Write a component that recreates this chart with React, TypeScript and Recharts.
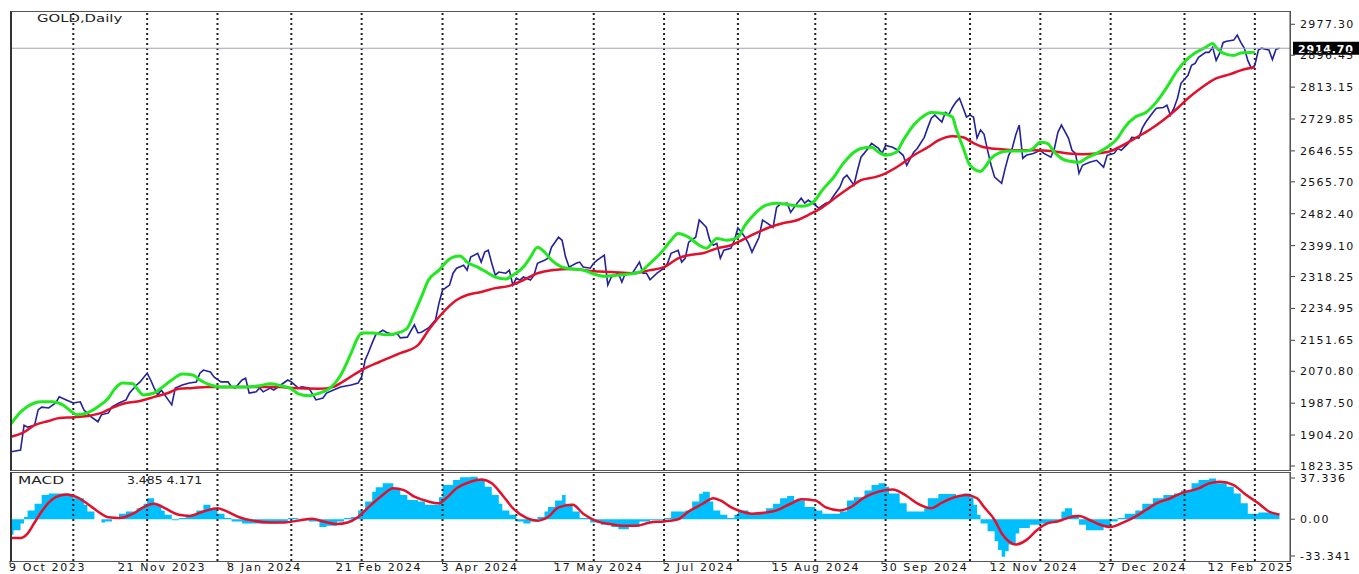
import React from 'react';
import { ComposedChart, Line, Area, XAxis, YAxis, ReferenceLine } from 'recharts';

const FONT = '"DejaVu Sans", Verdana, sans-serif';

// [trading day index (0 = 9 Oct 2023), close]
const priceSeries = [
  [0, 1860], [3, 1865], [4, 1930], [5, 1925], [7, 1930], [8, 1970], [9, 1977], [11, 1975], [13, 1988], [14, 2004],
  [16, 1996], [18, 1988], [20, 1991], [21, 1970], [23, 1952], [25, 1939], [26, 1957], [28, 1962], [29, 1978], [31, 1988],
  [33, 1996], [34, 2014], [36, 2035], [37, 2043], [39, 2066], [40, 2048], [41, 2027], [42, 2009], [43, 2022], [45, 1996],
  [46, 1983], [47, 2027], [49, 2035], [51, 2040], [53, 2043], [54, 2066], [55, 2074], [57, 2069], [58, 2056], [60, 2043],
  [62, 2043], [63, 2030], [64, 2027], [66, 2048], [67, 2053], [68, 2014], [70, 2017], [71, 2027], [72, 2017], [74, 2027],
  [75, 2022], [77, 2035], [79, 2048], [80, 2043], [82, 2027], [83, 2030], [85, 2027], [87, 1996], [89, 2001], [90, 2014],
  [92, 2022], [94, 2030], [97, 2035], [99, 2040], [100, 2056], [101, 2100], [102, 2121], [103, 2145], [104, 2166], [106, 2178],
  [107, 2173], [109, 2166], [110, 2171], [111, 2158], [113, 2160], [115, 2192], [116, 2171], [117, 2173], [119, 2184], [121, 2205],
  [122, 2249], [123, 2283], [125, 2296], [126, 2327], [127, 2340], [129, 2348], [130, 2335], [131, 2369], [133, 2379], [134, 2356],
  [135, 2382], [136, 2387], [137, 2353], [138, 2322], [139, 2330], [141, 2327], [142, 2335], [143, 2296], [144, 2314], [145, 2309],
  [146, 2317], [148, 2309], [149, 2322], [150, 2353], [152, 2361], [153, 2366], [154, 2395], [156, 2421], [157, 2413], [158, 2369],
  [159, 2343], [161, 2353], [162, 2356], [163, 2343], [165, 2340], [166, 2353], [167, 2361], [169, 2374], [170, 2296], [171, 2317],
  [173, 2327], [174, 2304], [175, 2327], [177, 2327], [179, 2356], [180, 2327], [181, 2327], [182, 2310], [184, 2327], [186, 2340],
  [187, 2353], [188, 2379], [190, 2387], [191, 2356], [192, 2366], [193, 2408], [195, 2421], [196, 2466], [198, 2447], [199, 2413],
  [200, 2400], [201, 2405], [202, 2366], [203, 2387], [205, 2392], [206, 2413], [207, 2445], [208, 2434], [209, 2421], [210, 2405],
  [211, 2382], [213, 2421], [214, 2466], [215, 2460], [217, 2447], [218, 2499], [219, 2507], [221, 2510], [222, 2486], [224, 2512],
  [225, 2523], [226, 2510], [227, 2518], [229, 2505], [230, 2497], [232, 2510], [233, 2512], [234, 2526], [236, 2552], [237, 2575],
  [238, 2583], [240, 2557], [241, 2596], [242, 2630], [244, 2653], [245, 2666], [247, 2653], [248, 2640], [249, 2661], [251, 2656],
  [252, 2651], [254, 2635], [255, 2609], [257, 2643], [258, 2653], [260, 2682], [261, 2708], [262, 2732], [263, 2740], [265, 2722],
  [266, 2747], [267, 2742], [268, 2760], [269, 2774], [270, 2784], [271, 2760], [272, 2735], [273, 2740], [274, 2735], [275, 2680],
  [276, 2701], [277, 2690], [278, 2648], [279, 2609], [280, 2578], [282, 2562], [283, 2601], [284, 2635], [285, 2653], [286, 2688],
  [287, 2714], [288, 2627], [289, 2635], [291, 2640], [293, 2648], [294, 2640], [296, 2630], [297, 2653], [298, 2695], [299, 2714],
  [301, 2680], [302, 2648], [303, 2640], [304, 2588], [305, 2609], [307, 2617], [309, 2622], [311, 2604], [312, 2635], [314, 2640],
  [315, 2653], [316, 2648], [318, 2666], [319, 2682], [321, 2680], [322, 2706], [323, 2722], [325, 2747], [326, 2758], [328, 2760],
  [329, 2766], [330, 2740], [331, 2758], [332, 2784], [333, 2823], [335, 2844], [336, 2870], [337, 2875], [338, 2891], [340, 2904],
  [341, 2904], [342, 2917], [343, 2883], [344, 2902], [345, 2930], [346, 2933], [348, 2936], [349, 2949], [350, 2930], [351, 2915],
  [352, 2883], [353, 2862], [354, 2870], [355, 2910], [356, 2915], [357, 2912], [358, 2910], [359, 2885], [360, 2912], [361, 2914.7],
];

// fast moving average (green)
const fastMaSeries = [
  [0, 1930], [3, 1964], [7, 1988], [9, 1991], [12, 1991], [15, 1983], [18, 1962], [19, 1957], [22, 1962], [25, 1978],
  [28, 2001], [30, 2027], [32, 2040], [35, 2038], [36, 2027], [38, 2009], [41, 2014], [43, 2027], [46, 2048], [49, 2064],
  [52, 2061], [54, 2048], [57, 2035], [60, 2030], [63, 2030], [67, 2030], [71, 2033], [74, 2038], [77, 2033], [80, 2025],
  [82, 2012], [85, 2007], [88, 2014], [91, 2027], [94, 2060], [97, 2118], [99, 2160], [100, 2171], [103, 2171], [107, 2166],
  [111, 2173], [113, 2184], [115, 2223], [117, 2265], [119, 2309], [122, 2335], [124, 2356], [126, 2369], [128, 2372], [130, 2356],
  [133, 2343], [136, 2327], [138, 2317], [141, 2312], [143, 2322], [146, 2343], [148, 2369], [150, 2395], [152, 2382], [154, 2361],
  [157, 2343], [160, 2338], [163, 2335], [166, 2325], [169, 2319], [173, 2322], [176, 2325], [179, 2330], [182, 2353], [185, 2379],
  [188, 2413], [190, 2431], [193, 2421], [196, 2400], [198, 2392], [201, 2418], [204, 2413], [207, 2421], [209, 2452], [212, 2484],
  [215, 2505], [218, 2510], [222, 2505], [225, 2502], [227, 2505], [229, 2518], [231, 2544], [234, 2575], [237, 2614], [240, 2643],
  [242, 2653], [245, 2656], [247, 2643], [249, 2635], [252, 2643], [254, 2674], [257, 2714], [259, 2732], [262, 2747], [265, 2745],
  [268, 2735], [269, 2706], [271, 2656], [273, 2609], [276, 2593], [277, 2601], [279, 2627], [281, 2640], [284, 2646], [286, 2646],
  [289, 2646], [291, 2653], [293, 2669], [295, 2666], [297, 2643], [299, 2627], [301, 2620], [304, 2617], [306, 2627], [309, 2640],
  [312, 2656], [315, 2680], [317, 2708], [320, 2735], [323, 2747], [326, 2774], [329, 2813], [332, 2857], [335, 2888], [337, 2902],
  [340, 2917], [342, 2927], [343, 2917], [345, 2902], [348, 2896], [350, 2902], [354, 2904],
];

// slow moving average (red)
const slowMaSeries = [
  [0, 1899], [4, 1912], [7, 1930], [11, 1941], [14, 1949], [18, 1951], [22, 1954], [26, 1962], [29, 1975], [33, 1988],
  [37, 1993], [41, 2004], [45, 2014], [48, 2025], [52, 2027], [56, 2030], [60, 2030], [69, 2030], [77, 2030], [80, 2027],
  [88, 2025], [92, 2030], [94, 2040], [100, 2074], [105, 2095], [111, 2118], [116, 2139], [119, 2178], [123, 2223], [127, 2257],
  [130, 2270], [134, 2278], [138, 2288], [142, 2294], [146, 2309], [150, 2327], [154, 2335], [160, 2338], [166, 2332], [171, 2330],
  [177, 2327], [182, 2335], [186, 2343], [190, 2366], [193, 2374], [197, 2379], [201, 2392], [205, 2400], [208, 2413], [212, 2431],
  [216, 2447], [220, 2458], [224, 2466], [227, 2479], [231, 2499], [235, 2526], [239, 2552], [242, 2570], [246, 2578], [249, 2588],
  [253, 2609], [257, 2635], [261, 2656], [264, 2674], [268, 2685], [271, 2682], [274, 2667], [277, 2656], [279, 2653], [282, 2651],
  [287, 2648], [292, 2648], [296, 2646], [301, 2640], [305, 2638], [309, 2640], [313, 2646], [316, 2659], [320, 2680], [324, 2701],
  [328, 2727], [332, 2758], [335, 2784], [339, 2813], [343, 2836], [347, 2847], [350, 2857], [354, 2865],
];

// MACD main (histogram)
const macdSeries = [
  [0, -14], [1, -10], [3, -4], [4, 2], [5, 8], [7, 14], [9, 22], [11, 23.4], [14, 23.4], [17, 22.8],
  [18, 19], [21, 13], [22, 7], [24, 0], [26, -3], [27, -2], [29, 0], [31, 5], [33, 7], [36, 10],
  [38, 14], [39, 19], [41, 13], [43, 8], [44, 4], [46, -1], [48, 1], [50, 4], [53, 8], [55, 13],
  [57, 10], [59, 5], [61, 1], [63, -2], [66, -4], [69, -4], [73, -4], [76, -3], [79, 1], [82, -1],
  [85, -2], [88, -7], [90, -6], [93, -2], [95, 1], [97, 2], [99, 8], [101, 16], [103, 25], [104, 29],
  [106, 32.5], [109, 28], [111, 22], [113, 17.4], [116, 16], [118, 13], [120, 13], [122, 20], [123, 31], [126, 35.5],
  [128, 38], [131, 38.5], [133, 35.5], [135, 29.5], [137, 22], [139, 14], [140, 8], [142, 4], [144, -2], [146, -4],
  [148, -2], [150, 2], [152, 7], [153, 11], [155, 17], [157, 22], [158, 14], [160, 7], [162, 1], [165, -3],
  [168, -5], [171, -7], [173, -9], [176, -7], [179, -2], [182, -1], [186, 1], [188, 7], [192, 8], [194, 16],
  [196, 23], [197, 25], [199, 16], [200, 8], [202, 4], [204, 1], [206, 4], [207, 8], [210, 5], [212, 5],
  [215, 10], [217, 14], [219, 19], [221, 21], [223, 17], [226, 11], [229, 8], [231, 5], [233, 5], [236, 7],
  [238, 17], [240, 20], [243, 26], [245, 31], [247, 32.5], [249, 29.5], [250, 23.4], [253, 14.4], [255, 7], [257, 7],
  [260, 10], [261, 19], [264, 22.8], [267, 22.8], [269, 21], [271, 23.4], [273, 20], [274, 13], [275, 4], [276, -4],
  [278, -11], [280, -20], [281, -28], [282, -34], [283, -29], [284, -23], [286, -13], [287, -8], [290, -5], [293, -4],
  [296, -3], [298, -2], [299, 7], [300, 10], [302, 4], [304, -5], [306, -10], [309, -10], [311, -7], [313, -2],
  [315, 1], [317, 5], [320, 8], [322, 14], [325, 19], [328, 22], [331, 23.4], [333, 26], [336, 32.5], [338, 35.5],
  [341, 37], [343, 32.5], [346, 29.5], [348, 23.4], [350, 14.4], [352, 5], [355, 6], [357, 6], [360, 4], [361, 3.485],
];

// MACD signal (red)
const signalSeries = [
  [0, -17], [3, -17], [5, -13], [7, -3], [9, 7], [11, 15], [13, 20], [16, 22.5], [19, 20], [22, 14],
  [25, 7], [28, 1.7], [31, 1], [35, 5], [38, 11], [41, 14], [44, 10], [48, 4], [51, 3], [55, 7],
  [59, 10], [61, 8], [65, 2], [69, -1.3], [74, -3], [78, -3], [82, -1.3], [86, 0.5], [89, -2], [93, -4.4],
  [96, -3], [99, 2], [102, 11], [106, 22], [109, 28], [112, 26.4], [115, 20.4], [119, 16], [122, 14.4], [124, 19],
  [127, 28], [131, 34], [134, 36], [137, 32.5], [140, 22], [143, 10], [147, 1], [150, -1.3], [153, 2], [156, 10.7],
  [160, 13], [163, 5], [167, -2], [171, -4.6], [174, -6], [178, -6], [182, -3], [186, -2], [190, 0], [193, 7],
  [197, 14], [200, 19], [202, 17], [205, 11], [208, 7], [211, 5], [215, 6], [218, 8], [222, 14], [225, 18],
  [229, 17], [232, 10.7], [236, 8], [239, 10.7], [243, 19.8], [247, 25], [251, 27], [255, 21], [258, 14.4], [262, 10],
  [265, 15], [269, 20.4], [272, 22], [275, 19], [277, 11], [280, -0.7], [282, -12.7], [284, -20], [286, -23], [289, -19],
  [292, -10], [295, -3.8], [298, -2], [302, 2.3], [304, 3], [307, -0.7], [310, -5], [313, -7], [316, -3.8], [320, 2.3],
  [323, 8.3], [326, 14.4], [330, 19], [333, 23.4], [338, 28], [341, 32.5], [344, 34], [348, 31], [351, 23.4], [355, 14.4],
  [358, 7], [361, 4.171],
];

const dateTickDays = [0, 31, 62, 93, 123, 155, 186, 217, 248, 279, 310, 341];
const dateTickLabels = [
  '9 Oct 2023', '21 Nov 2023', '8 Jan 2024', '21 Feb 2024', '3 Apr 2024', '17 May 2024',
  '2 Jul 2024', '15 Aug 2024', '30 Sep 2024', '12 Nov 2024', '27 Dec 2024', '12 Feb 2025',
];
const monthGridDays = [18, 39, 59, 80, 100, 123, 144, 166, 186, 207, 229, 249, 273, 293, 313, 334, 354];
const priceTicks = [
  1823.35, 1904.2, 1987.5, 2070.8, 2151.65, 2234.95, 2318.25, 2399.1,
  2482.4, 2565.7, 2646.55, 2729.85, 2813.15, 2896.45, 2977.3,
];
const macdTicks = [37.336, 0, -33.341];
const macdTickLabels = ['37.336', '0.00', '-33.341'];
const lastPrice = 2914.7;
const macdLast = 3.485;
const signalLast = 4.171;

const buildRows = (series: Record<string, number[][]>) => {
  const map = new Map<number, any>();
  Object.entries(series).forEach(([key, pts]) => {
    pts.forEach(([day, v]) => {
      const row = map.get(day) ?? { day };
      row[key] = v;
      map.set(day, row);
    });
  });
  return [...map.values()].sort((a, b) => a.day - b.day);
};

const mainRows = buildRows({ price: priceSeries, fast: fastMaSeries, slow: slowMaSeries });
const macdRows = buildRows({ hist: macdSeries, signal: signalSeries });

const X_DOMAIN: [number, number] = [0, 364];

const PriceTick = ({ x, y, payload }: any) => (
  <text x={x} y={y} dy={4} fontSize={11} letterSpacing={1.3} fill="#111" fontFamily={FONT}>
    {Number(payload.value).toFixed(2)}
  </text>
);

const MacdTick = ({ x, y, payload, index }: any) => (
  <text x={x} y={y} dy={4} fontSize={11} letterSpacing={1.3} fill="#111" fontFamily={FONT}>
    {macdTickLabels[index] ?? String(payload.value)}
  </text>
);

const DateTick = ({ x, y, index }: any) => (
  <g>
    <line x1={x} x2={x} y1={y} y2={y + 3} stroke="#333" />
    <text x={x - 1} y={y + 10} fontSize={11} letterSpacing={1.6} fill="#111" fontFamily={FONT}>
      {dateTickLabels[index]}
    </text>
  </g>
);

const PriceTag = (props: any) => {
  const vb = props.viewBox || {};
  const x = vb.x + vb.width + 3;
  const y = vb.y;
  return (
    <g>
      <rect x={x} y={y - 6.5} width={66} height={13} fill="#000" />
      <text x={x + 5} y={y + 4.5} fill="#fff" fontSize={11} fontWeight="bold" letterSpacing={0.8} fontFamily={FONT}>
        {lastPrice.toFixed(2)}
      </text>
    </g>
  );
};

const gridLines = monthGridDays.map((d) => (
  <ReferenceLine key={d} x={d} stroke="#222" strokeWidth={2} strokeDasharray="2 3" />
));

const label = (text: string, left: number, top: number, sx: number) => (
  <div
    style={{
      position: 'absolute', left, top, fontSize: 11, lineHeight: '11px', color: '#222',
      fontFamily: FONT, whiteSpace: 'nowrap', transform: `scaleX(${sx})`, transformOrigin: 'left top',
    }}
  >
    {text}
  </div>
);

export default function App() {
  return (
    <div style={{ position: 'absolute', left: 0, top: 0, width: 1359, height: 574, background: '#fff', overflow: 'hidden' }}>
      {/* price panel */}
      <div style={{ position: 'absolute', left: 0, top: 0 }}>
        <ComposedChart width={1359} height={472} data={mainRows} margin={{ top: 11, right: 0, bottom: 2, left: 10 }}>
          <XAxis dataKey="day" type="number" domain={X_DOMAIN} hide allowDataOverflow />
          <YAxis
            orientation="right"
            width={69}
            type="number"
            domain={[1812.9, 3012.0]}
            ticks={priceTicks}
            interval={0}
            allowDataOverflow
            axisLine={{ stroke: '#444' }}
            tickLine={{ stroke: '#444' }}
            tickSize={5}
            tickMargin={5}
            tick={<PriceTick />}
          />
          {gridLines}
          <Line type="linear" dataKey="price" stroke="#22229A" strokeWidth={1.6} dot={false} connectNulls isAnimationActive={false} />
          <Line type="monotone" dataKey="slow" stroke="#E3102B" strokeWidth={2.5} dot={false} connectNulls isAnimationActive={false} />
          <Line type="monotone" dataKey="fast" stroke="#22E822" strokeWidth={3} dot={false} connectNulls isAnimationActive={false} />
          <ReferenceLine y={lastPrice} stroke="#9CA2B6" strokeWidth={1} label={<PriceTag />} />
        </ComposedChart>
      </div>

      {/* MACD panel */}
      <div style={{ position: 'absolute', left: 0, top: 462 }}>
        <ComposedChart width={1359} height={112} data={macdRows} margin={{ top: 10, right: 0, bottom: 0, left: 10 }}>
          <XAxis
            dataKey="day"
            type="number"
            domain={X_DOMAIN}
            ticks={dateTickDays}
            interval={0}
            allowDataOverflow
            height={13}
            axisLine={false}
            tickLine={false}
            tickSize={0}
            tickMargin={0}
            tick={<DateTick />}
          />
          <YAxis
            orientation="right"
            width={69}
            type="number"
            domain={[-37.9, 42.8]}
            ticks={macdTicks}
            interval={0}
            allowDataOverflow
            axisLine={{ stroke: '#444' }}
            tickLine={{ stroke: '#444' }}
            tickSize={5}
            tickMargin={5}
            tick={<MacdTick />}
          />
          {gridLines}
          <Area type="stepAfter" dataKey="hist" stroke="none" fill="#00BFFF" fillOpacity={1} baseValue={0} connectNulls isAnimationActive={false} />
          <Line type="monotone" dataKey="signal" stroke="#E3102B" strokeWidth={2.5} dot={false} connectNulls isAnimationActive={false} />
        </ComposedChart>
      </div>

      {/* panel frames */}
      <div style={{ position: 'absolute', left: 10, top: 11, width: 1281, height: 460, boxSizing: 'border-box', border: '1px solid #555', borderLeft: '2px solid #333', pointerEvents: 'none' }} />
      <div style={{ position: 'absolute', left: 10, top: 472, width: 1281, height: 90, boxSizing: 'border-box', border: '1px solid #555', borderLeft: '2px solid #333', pointerEvents: 'none' }} />

      {label('GOLD,Daily', 37, 13, 1.35)}
      {label('MACD', 18, 475, 1.4)}
      {label(`${macdLast} ${signalLast}`, 127, 475, 1.13)}
    </div>
  );
}
